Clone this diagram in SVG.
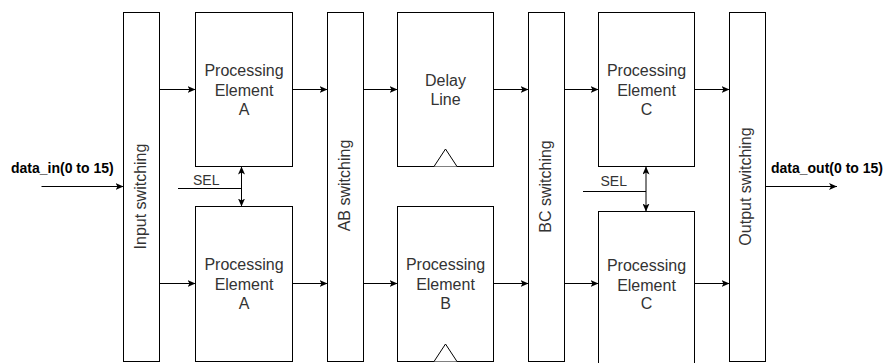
<svg xmlns="http://www.w3.org/2000/svg" width="889" height="363" viewBox="0 0 889 363">
<style>
.box{fill:#fff;stroke:#000;stroke-width:1}
.tri{fill:#fff;stroke:#000;stroke-width:1}
.t{font-family:"Liberation Sans",Arial,sans-serif;font-size:16px;fill:#333;text-anchor:middle}
.s{font-family:"Liberation Sans",Arial,sans-serif;font-size:14px;fill:#333}
.b{font-family:"Liberation Sans",Arial,sans-serif;font-size:14px;font-weight:bold;fill:#000}
.c{fill:none;stroke:#000;stroke-width:1}
</style>
<defs>
<marker id="arr" viewBox="0 0 8 7" refX="8" refY="3.5" markerWidth="8" markerHeight="7" markerUnits="userSpaceOnUse" orient="auto-start-reverse">
<path d="M0,0 L8,3.5 L0,7 L2,3.5 z" fill="#000"/>
</marker>
</defs>
<rect width="889" height="363" fill="#fff"/>
<g id="input-switching">
<rect class="box" x="123.5" y="12.5" width="36" height="349"/>
<text class="t" transform="translate(146,196.5) rotate(-90)">Input switching</text>
</g>
<g id="pe-a-top">
<rect class="box" x="195.5" y="12.5" width="97" height="154"/>
<text class="t" x="244" y="76">Processing</text>
<text class="t" x="244" y="95.5">Element</text>
<text class="t" x="244" y="115">A</text>
</g>
<g id="pe-a-bottom">
<rect class="box" x="195.5" y="206.5" width="97" height="155"/>
<text class="t" x="244" y="270">Processing</text>
<text class="t" x="244" y="289.5">Element</text>
<text class="t" x="244" y="309">A</text>
</g>
<g id="ab-switching">
<rect class="box" x="327.5" y="12.5" width="36" height="349"/>
<text class="t" transform="translate(350,185.5) rotate(-90)">AB switching</text>
</g>
<g id="delay-line">
<rect class="box" x="397.5" y="12.5" width="96" height="154"/>
<path class="tri" d="M434,166.5 L445.5,149 L457,166.5"/>
<text class="t" x="445.5" y="85.5">Delay</text>
<text class="t" x="445.5" y="105">Line</text>
</g>
<g id="pe-b">
<rect class="box" x="397.5" y="206.5" width="96" height="155"/>
<path class="tri" d="M434,361.5 L445.5,344 L457,361.5"/>
<text class="t" x="445.5" y="270">Processing</text>
<text class="t" x="445.5" y="289.5">Element</text>
<text class="t" x="445.5" y="309">B</text>
</g>
<g id="bc-switching">
<rect class="box" x="528.5" y="12.5" width="36" height="349"/>
<text class="t" transform="translate(551,186.5) rotate(-90)">BC switching</text>
</g>
<g id="pe-c-top">
<rect class="box" x="598.5" y="12.5" width="96" height="154"/>
<text class="t" x="646.5" y="76">Processing</text>
<text class="t" x="646.5" y="96">Element</text>
<text class="t" x="646.5" y="115">C</text>
</g>
<g id="pe-c-bottom">
<rect class="box" x="598.5" y="211.5" width="96" height="160"/>
<text class="t" x="646.5" y="270.5">Processing</text>
<text class="t" x="646.5" y="290.5">Element</text>
<text class="t" x="646.5" y="309">C</text>
</g>
<g id="output-switching">
<rect class="box" x="729.5" y="12.5" width="36" height="349"/>
<text class="t" transform="translate(750.5,186.5) rotate(-90)">Output switching</text>
</g>
<g id="labels">
<text class="b" x="11" y="173">data_in(0 to 15)</text>
<text class="b" x="771" y="173">data_out(0 to 15)</text>
<text class="s" x="193" y="185">SEL</text>
<text class="s" x="600.5" y="186">SEL</text>
</g>
<g id="connectors">
<line class="c" x1="41.5" y1="186.5" x2="123.5" y2="186.5" marker-end="url(#arr)"/>
<line class="c" x1="159.5" y1="89.5" x2="195.5" y2="89.5" marker-end="url(#arr)"/>
<line class="c" x1="159.5" y1="283.5" x2="195.5" y2="283.5" marker-end="url(#arr)"/>
<line class="c" x1="292.5" y1="89.5" x2="327.5" y2="89.5" marker-end="url(#arr)"/>
<line class="c" x1="292.5" y1="283.5" x2="327.5" y2="283.5" marker-end="url(#arr)"/>
<line class="c" x1="363.5" y1="89.5" x2="397.5" y2="89.5" marker-end="url(#arr)"/>
<line class="c" x1="363.5" y1="283.5" x2="397.5" y2="283.5" marker-end="url(#arr)"/>
<line class="c" x1="493.5" y1="89.5" x2="528.5" y2="89.5" marker-end="url(#arr)"/>
<line class="c" x1="493.5" y1="283.5" x2="528.5" y2="283.5" marker-end="url(#arr)"/>
<line class="c" x1="564.5" y1="89.5" x2="598.5" y2="89.5" marker-end="url(#arr)"/>
<line class="c" x1="564.5" y1="283.5" x2="598.5" y2="283.5" marker-end="url(#arr)"/>
<line class="c" x1="694.5" y1="89.5" x2="729.5" y2="89.5" marker-end="url(#arr)"/>
<line class="c" x1="694.5" y1="283.5" x2="729.5" y2="283.5" marker-end="url(#arr)"/>
<line class="c" x1="765.5" y1="186.5" x2="837" y2="186.5" marker-end="url(#arr)"/>
<line class="c" x1="178" y1="188.5" x2="241.5" y2="188.5"/>
<line class="c" x1="241.5" y1="166.5" x2="241.5" y2="206.5" marker-start="url(#arr)" marker-end="url(#arr)"/>
<line class="c" x1="583" y1="191.5" x2="646" y2="191.5"/>
<line class="c" x1="646" y1="166.5" x2="646" y2="211.5" marker-start="url(#arr)" marker-end="url(#arr)"/>
</g>
</svg>
